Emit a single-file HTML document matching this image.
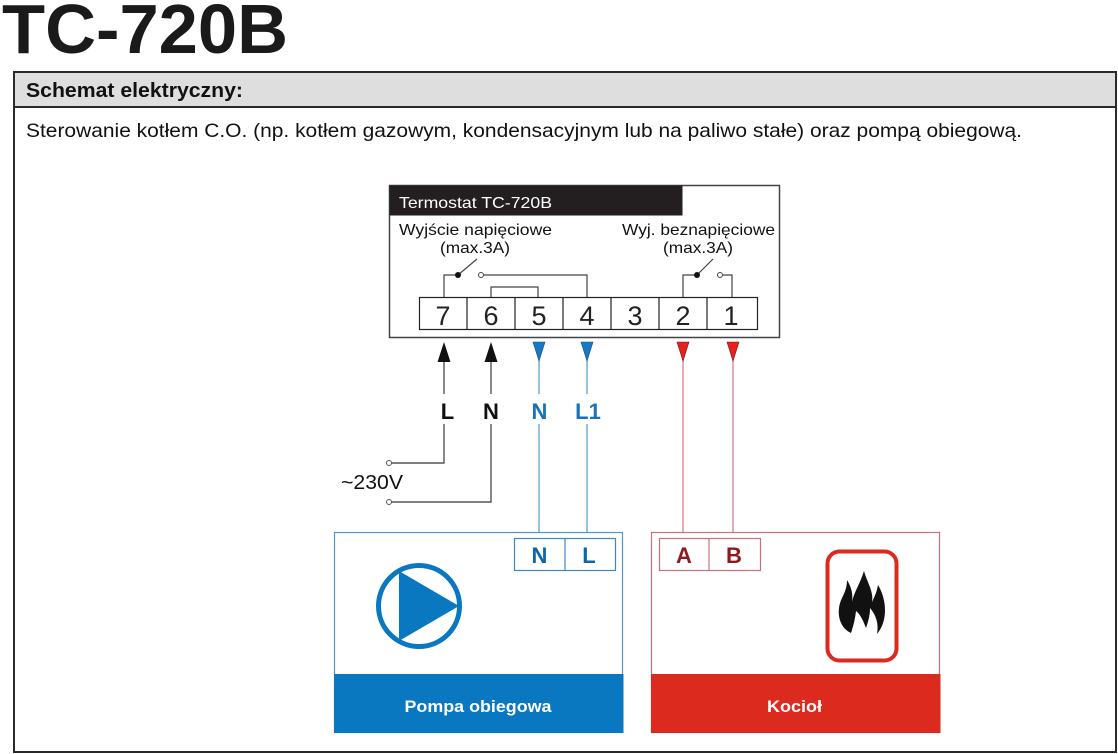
<!DOCTYPE html>
<html><head><meta charset="utf-8"><style>
html,body{margin:0;padding:0;background:#fff;}
svg{display:block;font-family:"Liberation Sans",Arial,sans-serif;}
</style></head><body>
<svg width="1118" height="754" viewBox="0 0 1118 754" xmlns="http://www.w3.org/2000/svg">
<text x="2" y="53" font-size="70" font-weight="bold" fill="#1a1a1a" textLength="286" lengthAdjust="spacingAndGlyphs">TC-720B</text>
<rect x="14" y="72" width="1102" height="35" fill="#dedede"/>
<rect x="14" y="72" width="1102" height="680" fill="none" stroke="#2a2a2a" stroke-width="2"/>
<line x1="14" y1="107" x2="1116" y2="107" stroke="#2a2a2a" stroke-width="2"/>
<text x="26" y="97" font-size="20" font-weight="bold" fill="#111" textLength="217" lengthAdjust="spacingAndGlyphs">Schemat elektryczny:</text>
<text x="26" y="137" font-size="19.5" fill="#111" textLength="996" lengthAdjust="spacingAndGlyphs">Sterowanie kotłem C.O. (np. kotłem gazowym, kondensacyjnym lub na paliwo stałe) oraz pompą obiegową.</text>
<rect x="389.5" y="185.5" width="390" height="152" fill="#fff" stroke="#444" stroke-width="1.5"/>
<rect x="389.5" y="185.5" width="293" height="30" fill="#231f20"/>
<text x="399" y="208" font-size="16" fill="#fff" textLength="153" lengthAdjust="spacingAndGlyphs">Termostat TC-720B</text>
<text x="399" y="235" font-size="16" fill="#111" textLength="153" lengthAdjust="spacingAndGlyphs">Wyjście napięciowe</text>
<text x="440" y="253" font-size="16" fill="#111" textLength="70" lengthAdjust="spacingAndGlyphs">(max.3A)</text>
<text x="622" y="235" font-size="16" fill="#111" textLength="153" lengthAdjust="spacingAndGlyphs">Wyj. beznapięciowe</text>
<text x="663" y="253" font-size="16" fill="#111" textLength="70" lengthAdjust="spacingAndGlyphs">(max.3A)</text>
<g stroke="#444" stroke-width="1.2" fill="none">
<polyline points="444,297 444,275 458,275"/>
<line x1="458" y1="275" x2="477" y2="259"/>
<polyline points="484,275 587,275 587,297"/>
<polyline points="491,297 491,287 538,287 538,297"/>
<polyline points="683,297 683,275 697,275"/>
<line x1="697" y1="275" x2="713" y2="259"/>
<polyline points="723,275 732,275 732,297"/>
</g>
<circle cx="458" cy="275" r="3" fill="#111"/>
<circle cx="481" cy="275" r="2.5" fill="#fff" stroke="#444" stroke-width="1"/>
<circle cx="697" cy="275" r="3" fill="#111"/>
<circle cx="720" cy="275" r="2.5" fill="#fff" stroke="#444" stroke-width="1"/>
<rect x="419.5" y="297.5" width="338" height="32" fill="#fff" stroke="#222" stroke-width="1.2"/>
<g stroke="#222" stroke-width="1.2">
<line x1="467" y1="297" x2="467" y2="330"/>
<line x1="515" y1="297" x2="515" y2="330"/>
<line x1="563" y1="297" x2="563" y2="330"/>
<line x1="611" y1="297" x2="611" y2="330"/>
<line x1="659" y1="297" x2="659" y2="330"/>
<line x1="707" y1="297" x2="707" y2="330"/>
</g>
<g font-size="27" fill="#222" text-anchor="middle">
<text x="443" y="325">7</text><text x="491" y="325">6</text><text x="539" y="325">5</text><text x="587" y="325">4</text><text x="635" y="325">3</text><text x="683" y="325">2</text><text x="731" y="325">1</text>
</g>
<g stroke="#555" stroke-width="1.4" fill="none">
<line x1="444" y1="360" x2="444" y2="394"/>
<polyline points="444,424 444,463 391,463"/>
<line x1="491" y1="360" x2="491" y2="394"/>
<polyline points="491,424 491,502 391,502"/>
</g>
<circle cx="389" cy="463" r="2.5" fill="#fff" stroke="#555" stroke-width="1"/>
<circle cx="389" cy="502" r="2.5" fill="#fff" stroke="#555" stroke-width="1"/>
<g stroke="#6aa9d6" stroke-width="1.4">
<line x1="539" y1="358" x2="539" y2="394"/>
<line x1="539" y1="424" x2="539" y2="539"/>
<line x1="587" y1="358" x2="587" y2="394"/>
<line x1="587" y1="424" x2="587" y2="539"/>
</g>
<g stroke="#dc9a9e" stroke-width="1.6">
<line x1="683" y1="358" x2="683" y2="539"/>
<line x1="733" y1="358" x2="733" y2="539"/>
</g>
<polygon points="444,342 437.5,362 450.5,362" fill="#111"/>
<polygon points="491,342 484.5,362 497.5,362" fill="#111"/>
<polygon points="533,342 545,342 539,361" fill="#1a78c2" stroke="#0d4f88" stroke-width="0.6"/>
<polygon points="581,342 593,342 587,361" fill="#1a78c2" stroke="#0d4f88" stroke-width="0.6"/>
<polygon points="677,342 689,342 683,361" fill="#e3221e" stroke="#8a1010" stroke-width="0.6"/>
<polygon points="727,342 739,342 733,361" fill="#e3221e" stroke="#8a1010" stroke-width="0.6"/>
<g font-size="22" font-weight="bold" text-anchor="middle">
<text x="447.5" y="419" fill="#111">L</text>
<text x="491" y="419" fill="#111">N</text>
<text x="539.5" y="419" fill="#1a72b8">N</text>
<text x="588" y="419" fill="#1a72b8">L1</text>
</g>
<text x="341" y="489" font-size="20.5" fill="#111" textLength="62" lengthAdjust="spacingAndGlyphs">~230V</text>
<rect x="334.5" y="532.5" width="288" height="200" fill="#fff" stroke="#4f96cc" stroke-width="1.2"/>
<rect x="334" y="674" width="289.5" height="59" fill="#0a78c1"/>
<text x="478" y="712" font-size="17" font-weight="bold" fill="#fff" text-anchor="middle" textLength="147" lengthAdjust="spacingAndGlyphs">Pompa obiegowa</text>
<rect x="514.5" y="538.5" width="101" height="32" fill="#fff" stroke="#3f86c0" stroke-width="1.2"/>
<line x1="565" y1="538" x2="565" y2="571" stroke="#3f86c0" stroke-width="1.2"/>
<g font-size="22" font-weight="bold" fill="#0e66a8" text-anchor="middle">
<text x="539.5" y="563">N</text><text x="589" y="563">L</text>
</g>
<circle cx="419" cy="606" r="40.5" fill="none" stroke="#0a78c1" stroke-width="5"/>
<polygon points="399,571 399,641 459,606" fill="#0a78c1"/>
<rect x="651.5" y="532.5" width="288" height="200" fill="#fff" stroke="#c9707a" stroke-width="1.2"/>
<rect x="651" y="674" width="289.5" height="59" fill="#dd2a1f"/>
<text x="794.5" y="712" font-size="17" font-weight="bold" fill="#fff" text-anchor="middle" textLength="55" lengthAdjust="spacingAndGlyphs">Kocioł</text>
<rect x="659.5" y="538.5" width="101" height="32" fill="#fff" stroke="#c9707a" stroke-width="1.2"/>
<line x1="709" y1="538" x2="709" y2="571" stroke="#c9707a" stroke-width="1.2"/>
<g font-size="22" font-weight="bold" fill="#8e1a1e" text-anchor="middle">
<text x="684" y="563">A</text><text x="734" y="563">B</text>
</g>
<rect x="827.5" y="551.5" width="69" height="109" rx="12" ry="12" fill="#fff" stroke="#dd2a1f" stroke-width="4"/>
<path fill="#111" fill-rule="evenodd" d="M 851 633 C 838 627, 836 610, 842 598 C 845 592, 847 587, 847 580 C 852 588, 853 595, 852 602 C 854 592, 860 584, 864 571 C 867 582, 874 592, 872 602 C 875 596, 877 591, 878 585 C 886 598, 889 620, 877 634 C 879 624, 876 615, 870 608 C 870 616, 868 622, 866 628 C 863 620, 860 614, 856 611 C 855 620, 853 627, 851 633 Z"/>
</svg>
</body></html>
